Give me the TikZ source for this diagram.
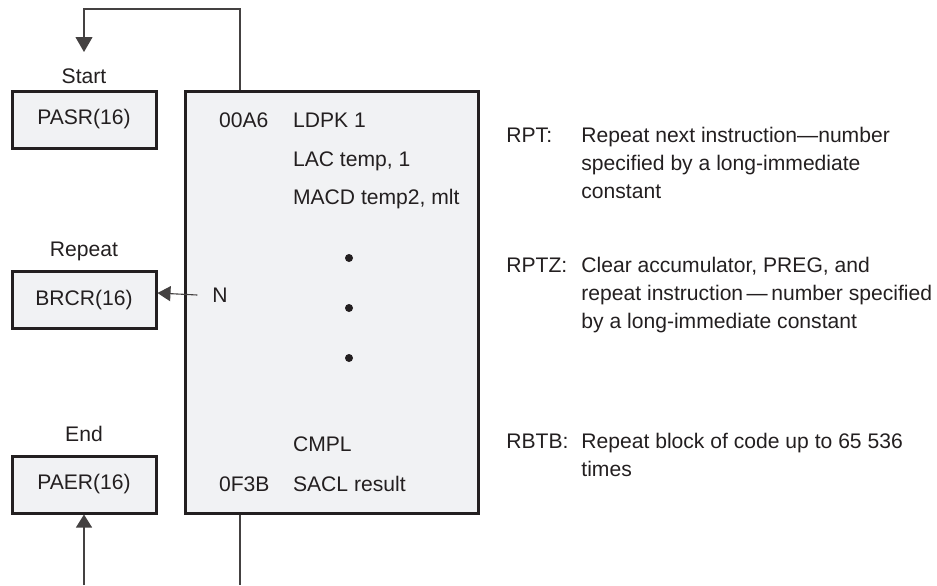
\documentclass[tikz,border=0pt]{standalone}
\usepackage{fontspec}
\setmainfont{Liberation Sans}
\usetikzlibrary{arrows.meta,calc}

\definecolor{boxfill}{HTML}{F1F2F4}
\definecolor{ink}{HTML}{231F20}

\newcommand{\notelines}[1]{\begin{tabular}[t]{@{}l@{}}#1\end{tabular}}

\begin{document}
\begin{tikzpicture}[x=0.5pt, y=-0.5pt, font=\fontsize{10.55}{14}\selectfont, text=ink,
    regbox/.style={draw=ink, line width=1.5pt, fill=boxfill, minimum width=72pt, minimum height=28.5pt, inner sep=0pt},
    flow/.style={draw=ink!85, line width=0.55pt, -{Triangle[length=7.5pt, width=8.5pt]}},
    wire/.style={draw=ink!85, line width=0.55pt},
    note/.style={anchor=base west, inner xsep=0pt}]
    \useasboundingbox (0,0) rectangle (937,585);
    % registers on the left
    \node[regbox] (pasr) at (84,119.5) {PASR(16)};
    \node[regbox] (brcr) at (84,300) {BRCR(16)};
    \node[regbox] (paer) at (84,484.5) {PAER(16)};
    \node[anchor=base] (lstart) at (84,83) {Start};
    \node[anchor=base] (lrepeat) at (84,256) {Repeat};
    \node[anchor=base] (lend) at (84,441) {End};
    % code block
    \node[regbox, minimum width=146.5pt, minimum height=211pt] (code) at (331.5,302) {};
    \node[anchor=base west] (a1) at (212,127) {00A6};
    \node[anchor=base west] (c1) at (286,127) {LDPK 1};
    \node[anchor=base west] (c2) at (286,166) {LAC temp, 1};
    \node[anchor=base west] (c3) at (286,204) {MACD temp2, mlt};
    \foreach \y in {258,308,358} \fill[ink] (349,\y) circle (2pt);
    \node[anchor=base west] (c4) at (286,451) {CMPL};
    \node[anchor=base west] (a2) at (212,491) {0F3B};
    \node[anchor=base west] (c5) at (286,491) {SACL result};
    \node (nlab) at (220,295) {N};
    % connectors
    \coordinate (starttip) at (84,52);
    \coordinate (loopout) at (240,585);
    \coordinate (loopin) at (84,585);
    \draw[flow] (code.north -| 240,0) |- (84,9) -- (starttip);
    \draw[flow, -{Triangle[length=6.5pt, width=7.5pt]}] (nlab.west) ++(-8,0) -- (brcr.east |- 0,293);
    \draw[wire] (code.south -| loopout) -- (loopout);
    \draw[flow, -{Triangle[length=6.5pt, width=8pt]}] (loopin) -- (paer.south);
    % instruction notes
    \node[note] (rpt) at (506,142) {RPT:};
    \node[note] (rptd) at (581,142) {\notelines{Repeat next instruction—number\\specified by a long-immediate\\constant}};
    \node[note] (rptz) at (506,272) {RPTZ:};
    \node[note] (rptzd) at (581,272) {\notelines{Clear accumulator, PREG, and\\repeat instruction\,—\,number specified\\by a long-immediate constant}};
    \node[note] (rbtb) at (506,448) {RBTB:};
    \node[note] (rbtbd) at (581,448) {\notelines{Repeat block of code up to 65 536\\times}};
\end{tikzpicture}
\end{document}
